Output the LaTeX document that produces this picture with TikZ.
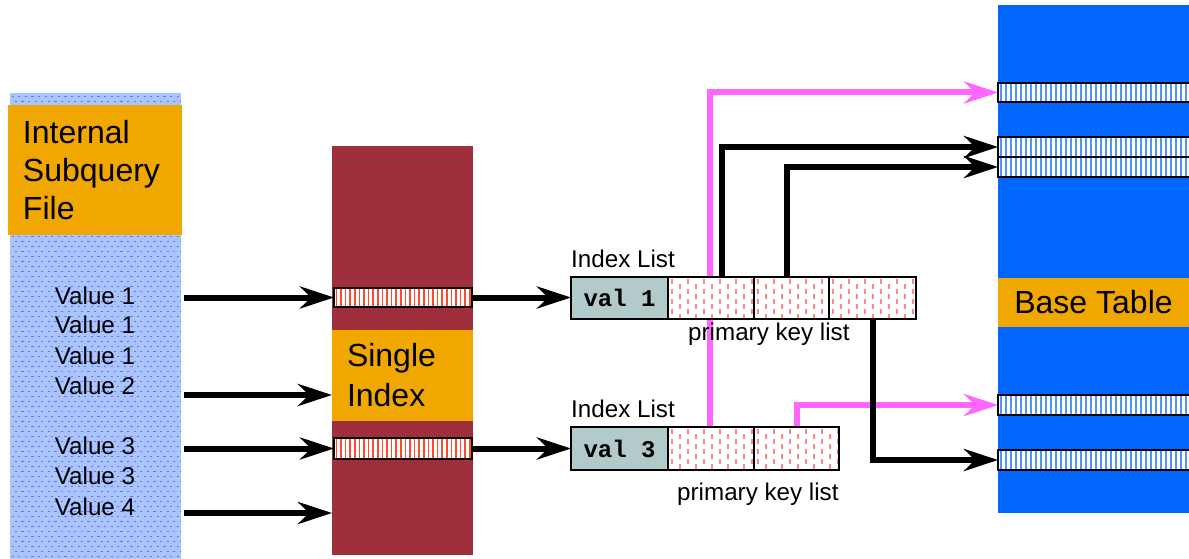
\documentclass[tikz,border=0pt]{standalone}
\usepackage{fontspec}
\setmainfont{Liberation Sans}
\newfontfamily\monob{Liberation Mono}
\usetikzlibrary{arrows.meta}
\pgfdeclarelayer{bg}
\pgfsetlayers{bg,main}
\definecolor{orng}{RGB}{240,168,0}
\definecolor{wine}{RGB}{158,47,59}
\definecolor{basblue}{RGB}{0,102,255}
\definecolor{paleblue}{RGB}{169,196,255}
\definecolor{dotblue}{RGB}{100,118,232}
\definecolor{valgrey}{RGB}{178,202,202}
\definecolor{pinkln}{RGB}{255,102,255}
\definecolor{redstripe}{RGB}{255,74,42}
\definecolor{pinkdash}{RGB}{255,135,135}
\definecolor{stripeblue}{RGB}{77,148,255}
\begin{document}
\begin{tikzpicture}[x=1pt,y=-1pt,
  blk/.style={inner sep=0pt, outer sep=0pt, anchor=north west},
  bigtxt/.style={font=\fontsize{32}{38}\selectfont},
  smalltxt/.style={font=\fontsize{24.2}{28}\selectfont},
  dotted panel/.style={fill=paleblue, path picture={
     \foreach \r in {0,...,47}{\foreach \c in {0,...,26}{
       \fill[dotblue] ([xshift=\c*6.6pt+1.5pt, yshift=-\r*10pt-3pt]path picture bounding box.north west) rectangle ++(2.2pt,-1.3pt);
       \fill[dotblue] ([xshift=\c*6.6pt+4.8pt, yshift=-\r*10pt-8pt]path picture bounding box.north west) rectangle ++(2.2pt,-1.3pt);
     }}}},
  redbar/.style={draw, line width=2pt, fill=white, path picture={
     \foreach \i in {0,...,30}{
       \fill[redstripe] ([xshift=\i*4.6pt+1.5pt]path picture bounding box.south west) rectangle ++(1.6pt,30pt);}}},
  bluebar/.style={draw, line width=2pt, fill=white, path picture={
     \foreach \i in {0,...,40}{
       \fill[stripeblue] ([xshift=\i*5pt+1.5pt]path picture bounding box.south west) rectangle ++(2.2pt,30pt);}}},
  pkcell/.style={draw, line width=1.5pt, fill=white, path picture={
     \foreach \i in {0,2,...,12}{
       \draw[pinkdash, line width=1.2pt, dash pattern=on 4.5pt off 5.5pt] ([xshift=\i*8pt+4pt, yshift=-2pt]path picture bounding box.north west) -- ++(0pt,-50pt);}
     \foreach \i in {1,3,...,11}{
       \draw[pinkdash, line width=1.2pt, dash pattern=on 4.5pt off 5.5pt] ([xshift=\i*8pt+4pt, yshift=-7pt]path picture bounding box.north west) -- ++(0pt,-50pt);}
     }},
  valcell/.style={draw, line width=1.5pt, fill=valgrey, font=\monob\bfseries\fontsize{24}{28}\selectfont},
  arr/.style={line width=6pt, -{Stealth[length=34pt,width=22pt,inset=11pt]}},
  pinkarr/.style={arr, draw=pinkln, color=pinkln}
]
\path[use as bounding box, clip] (0,0) rectangle (1189,559);

% left panel: internal subquery file
\node[blk, dotted panel, minimum width=171pt, minimum height=466pt] (sqf) at (10,93) {};
\node[blk, fill=orng, minimum width=174pt, minimum height=130pt, text width=144pt, align=left, bigtxt] (sqfh) at (8,105) {Internal\\Subquery\\File};
\foreach \n/\t/\yy in {v1/Value 1/296, v1b/Value 1/325, v1c/Value 1/356, v2/Value 2/386, v3/Value 3/446, v3b/Value 3/476, v4/Value 4/507}
  \node[smalltxt, inner sep=0pt] (\n) at (95,\yy) {\t};

% single index column
\node[blk, fill=wine, minimum width=141pt, minimum height=409pt] (si) at (332,146) {};
\node[blk, fill=orng, minimum width=141pt, minimum height=91pt, text width=111pt, align=left, font=\fontsize{32}{40}\selectfont] (sih) at (332,330) {Single\\Index};
\node[blk, redbar, minimum width=138pt, minimum height=19pt] (bar1) at (334,288) {};
\node[blk, redbar, minimum width=138pt, minimum height=21pt] (bar2) at (334,438) {};

% index list 1
\node[smalltxt, anchor=base west, inner sep=0pt] (il1) at (571,267) {Index List};
\node[blk, valcell, minimum width=97pt, minimum height=42pt] (l1v) at (571,277) {val 1\hspace{6pt}};
\node[blk, pkcell, minimum width=86pt, minimum height=42pt] (l1a) at (668,277) {};
\node[blk, pkcell, minimum width=75pt, minimum height=42pt] (l1b) at (754,277) {};
\node[blk, pkcell, minimum width=87pt, minimum height=42pt] (l1c) at (829,277) {};
\node[smalltxt, anchor=base west, inner sep=0pt] (pk1) at (688,340) {primary key list};

% index list 2
\node[smalltxt, anchor=base west, inner sep=0pt] (il2) at (571,417) {Index List};
\node[blk, valcell, minimum width=97pt, minimum height=43pt] (l2v) at (571,427) {val 3\hspace{6pt}};
\node[blk, pkcell, minimum width=86pt, minimum height=43pt] (l2a) at (668,427) {};
\node[blk, pkcell, minimum width=85pt, minimum height=43pt] (l2b) at (754,427) {};
\node[smalltxt, anchor=base west, inner sep=0pt] (pk2) at (677,500) {primary key list};

% base table
\node[blk, fill=basblue, minimum width=191pt, minimum height=508pt] (bt) at (998,5) {};
\node[blk, fill=orng, minimum width=191pt, minimum height=49pt, bigtxt] (bth) at (998,278) {Base Table};
\node[blk, bluebar, minimum width=200pt, minimum height=19pt] (r1) at (998,83) {};
\node[blk, bluebar, minimum width=200pt, minimum height=20pt] (r2) at (998,137) {};
\node[blk, bluebar, minimum width=200pt, minimum height=20pt] (r3) at (998,157) {};
\node[blk, bluebar, minimum width=200pt, minimum height=20pt] (r4) at (998,395) {};
\node[blk, bluebar, minimum width=200pt, minimum height=20pt] (r5) at (998,450) {};

% connectors from the subquery file into the index
\coordinate (s1) at (184,297.5);
\coordinate (s2) at (184,395);
\coordinate (s3) at (184,448.5);
\coordinate (s4) at (184,513);
\draw[arr] (s1) -- (bar1.west);
\draw[arr] (s2) -- (s2 -| sih.west);
\draw[arr] (s3) -- (bar2.west);
\draw[arr] (s4) -- (s4 -| si.west);

% index entries to index lists
\draw[arr] (bar1.east) -- (bar1.east -| l1v.west);
\draw[arr] (bar2.east) -- (bar2.east -| l2v.west);

% primary keys to base table rows
\draw[arr] ([xshift=11pt]l1a.north) |- (r2.west);
\draw[arr] ([xshift=-4.5pt]l1b.north) |- (r3.west);
\draw[arr] (l1c.south) |- (r5.west);
\begin{pgfonlayer}{bg}
\draw[pinkarr] ([xshift=-1pt]l2a.north) |- (r1.west);
\draw[pinkarr] ([xshift=0.5pt]l2b.north) |- (r4.west);
\end{pgfonlayer}
\end{tikzpicture}
\end{document}
